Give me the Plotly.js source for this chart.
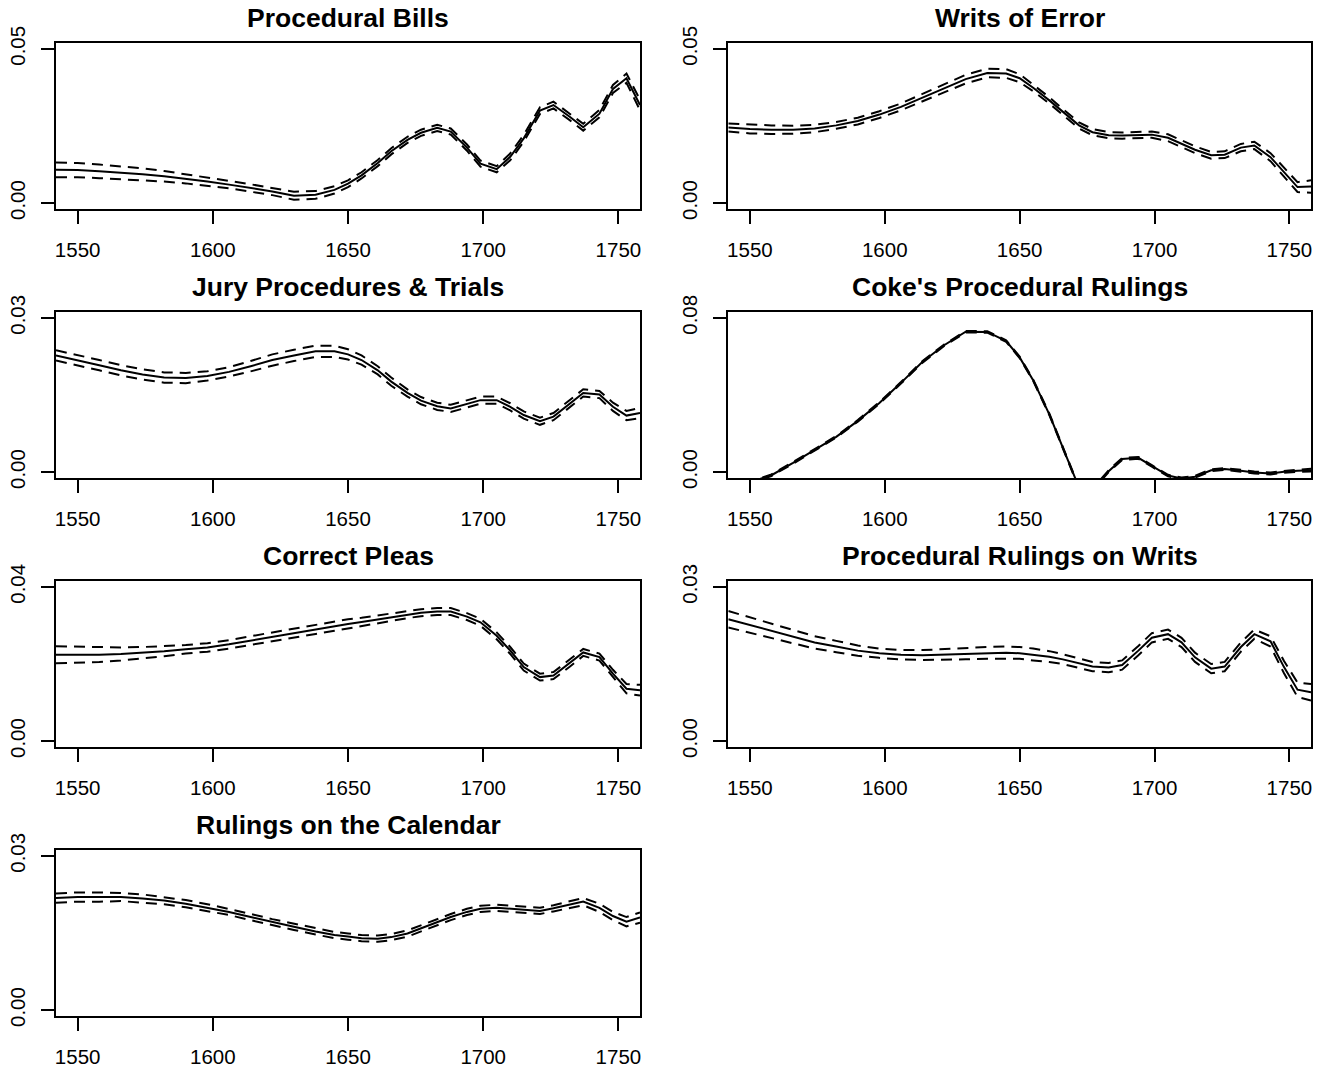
<!DOCTYPE html>
<html>
<head>
<meta charset="utf-8">
<script src="https://cdn.plot.ly/plotly-3.0.1.min.js"></script>
<style>html,body{margin:0;padding:0;background:#fff;}#chart{width:1326px;height:1070px;}</style>
</head>
<body>
<div id="chart"></div>
<script>
const years = [1542,1550,1558,1566,1574,1582,1590,1598,1606,1614,1622,1630,1638,1645,1650,1655,1661,1666,1672,1677,1683,1688,1694,1699,1705,1710,1715,1721,1726,1732,1737,1743,1748,1753,1758];
const xTickVals = [1550,1600,1650,1700,1750];

const titles = ["Procedural Bills","Writs of Error","Jury Procedures & Trials","Coke's Procedural Rulings","Correct Pleas","Procedural Rulings on Writs","Rulings on the Calendar"];
const yMaxTicks = [0.05,0.05,0.03,0.08,0.04,0.03,0.03];
const yMaxLabels = ["0.05","0.05","0.03","0.08","0.04","0.03","0.03"];

const pbMean = [0.0108,0.0107,0.0103,0.0099,0.0094,0.0087,0.0079,0.0070,0.0060,0.0049,0.0038,0.0024,0.0027,0.0043,0.0063,0.0090,0.0130,0.0168,0.0205,0.0228,0.0244,0.0232,0.0180,0.0128,0.0110,0.0150,0.0210,0.0300,0.0318,0.0280,0.0246,0.0290,0.0370,0.0405,0.0318];
const pbHi   = [0.0132,0.0130,0.0125,0.0120,0.0113,0.0104,0.0094,0.0083,0.0072,0.0061,0.0050,0.0037,0.0039,0.0055,0.0074,0.0100,0.0140,0.0178,0.0215,0.0238,0.0254,0.0242,0.0190,0.0138,0.0120,0.0161,0.0221,0.0311,0.0329,0.0291,0.0257,0.0302,0.0383,0.0420,0.0335];
const pbLo   = [0.0084,0.0084,0.0081,0.0078,0.0075,0.0070,0.0064,0.0057,0.0048,0.0037,0.0026,0.0011,0.0014,0.0031,0.0052,0.0080,0.0120,0.0158,0.0195,0.0218,0.0234,0.0222,0.0170,0.0118,0.0100,0.0139,0.0199,0.0289,0.0307,0.0269,0.0235,0.0278,0.0357,0.0390,0.0301];

const weMean = [0.0245,0.0240,0.0238,0.0238,0.0242,0.0252,0.0266,0.0287,0.0312,0.0342,0.0373,0.0402,0.0422,0.0420,0.0405,0.0374,0.0333,0.0295,0.0252,0.0230,0.0220,0.0219,0.0221,0.0222,0.0212,0.0193,0.0173,0.0155,0.0157,0.0180,0.0187,0.0149,0.0101,0.0052,0.0054];
const weHi   = [0.0258,0.0254,0.0252,0.0251,0.0254,0.0263,0.0277,0.0298,0.0323,0.0354,0.0386,0.0416,0.0436,0.0434,0.0418,0.0385,0.0343,0.0305,0.0262,0.0240,0.0230,0.0229,0.0231,0.0232,0.0223,0.0204,0.0184,0.0166,0.0168,0.0192,0.0199,0.0162,0.0115,0.0068,0.0074];
const weLo   = [0.0232,0.0226,0.0224,0.0225,0.0230,0.0241,0.0255,0.0276,0.0301,0.0330,0.0360,0.0388,0.0408,0.0406,0.0392,0.0363,0.0323,0.0285,0.0242,0.0220,0.0210,0.0209,0.0211,0.0212,0.0201,0.0182,0.0162,0.0144,0.0146,0.0168,0.0175,0.0136,0.0087,0.0036,0.0034];

const jpMean = [0.0227,0.0218,0.0208,0.0198,0.0190,0.0184,0.0183,0.0187,0.0195,0.0206,0.0218,0.0227,0.0235,0.0235,0.0229,0.0218,0.0198,0.0176,0.0154,0.0139,0.0128,0.0124,0.0132,0.0140,0.0140,0.0127,0.0111,0.0099,0.0108,0.0133,0.0154,0.0151,0.0127,0.0110,0.0115];
const jpHi   = [0.0237,0.0228,0.0218,0.0208,0.0200,0.0194,0.0193,0.0196,0.0204,0.0216,0.0229,0.0238,0.0246,0.0246,0.0239,0.0227,0.0206,0.0184,0.0161,0.0146,0.0135,0.0131,0.0139,0.0147,0.0147,0.0134,0.0118,0.0106,0.0115,0.0140,0.0161,0.0158,0.0135,0.0119,0.0125];
const jpLo   = [0.0217,0.0208,0.0198,0.0188,0.0180,0.0174,0.0173,0.0178,0.0186,0.0196,0.0207,0.0216,0.0224,0.0224,0.0219,0.0209,0.0190,0.0168,0.0147,0.0132,0.0121,0.0117,0.0125,0.0133,0.0133,0.0120,0.0104,0.0092,0.0101,0.0126,0.0147,0.0144,0.0119,0.0101,0.0105];

const cpMean = [-0.0090,-0.0055,-0.0016,0.0048,0.0114,0.0183,0.0266,0.0359,0.0463,0.0572,0.0658,0.0728,0.0727,0.0680,0.0595,0.0477,0.0300,0.0131,-0.0080,-0.0090,0.0005,0.0068,0.0074,0.0032,-0.0018,-0.0033,-0.0024,0.0010,0.0016,0.0007,-0.0002,-0.0007,0.0002,0.0007,0.0010];
const cpHi   = [-0.0086,-0.0051,-0.0012,0.0052,0.0118,0.0187,0.0270,0.0363,0.0467,0.0576,0.0662,0.0732,0.0731,0.0684,0.0599,0.0481,0.0304,0.0135,-0.0076,-0.0086,0.0010,0.0073,0.0079,0.0036,-0.0014,-0.0028,-0.0019,0.0015,0.0021,0.0012,0.0003,-0.0002,0.0007,0.0013,0.0017];
const cpLo   = [-0.0094,-0.0059,-0.0020,0.0044,0.0110,0.0179,0.0262,0.0355,0.0459,0.0568,0.0654,0.0724,0.0723,0.0676,0.0591,0.0473,0.0296,0.0127,-0.0084,-0.0094,0.0000,0.0063,0.0069,0.0028,-0.0022,-0.0038,-0.0029,0.0005,0.0011,0.0002,-0.0007,-0.0012,-0.0003,0.0001,0.0003];

const plMean = [0.0224,0.0224,0.0224,0.0226,0.0229,0.0233,0.0238,0.0243,0.0251,0.0261,0.0270,0.0280,0.0290,0.0298,0.0304,0.0309,0.0316,0.0322,0.0328,0.0333,0.0336,0.0336,0.0323,0.0308,0.0273,0.0235,0.0192,0.0166,0.0170,0.0202,0.0230,0.0218,0.0175,0.0136,0.0132];
const plHi   = [0.0246,0.0245,0.0243,0.0243,0.0244,0.0246,0.0249,0.0254,0.0262,0.0272,0.0282,0.0292,0.0302,0.0310,0.0316,0.0320,0.0326,0.0331,0.0337,0.0342,0.0345,0.0345,0.0332,0.0317,0.0282,0.0244,0.0201,0.0175,0.0179,0.0211,0.0239,0.0227,0.0185,0.0148,0.0146];
const plLo   = [0.0202,0.0203,0.0205,0.0209,0.0214,0.0220,0.0227,0.0232,0.0240,0.0250,0.0258,0.0268,0.0278,0.0286,0.0292,0.0298,0.0306,0.0313,0.0319,0.0324,0.0327,0.0327,0.0314,0.0299,0.0264,0.0226,0.0183,0.0157,0.0161,0.0193,0.0221,0.0209,0.0165,0.0124,0.0118];

const rwMean = [0.0237,0.0226,0.0215,0.0203,0.0192,0.0184,0.0176,0.0171,0.0168,0.0167,0.0168,0.0170,0.0171,0.0172,0.0171,0.0168,0.0164,0.0159,0.0152,0.0145,0.0143,0.0148,0.0176,0.0201,0.0208,0.0192,0.0163,0.0141,0.0145,0.0183,0.0208,0.0194,0.0144,0.0100,0.0095];
const rwHi   = [0.0253,0.0241,0.0229,0.0216,0.0204,0.0195,0.0186,0.0180,0.0177,0.0177,0.0179,0.0182,0.0183,0.0184,0.0183,0.0180,0.0175,0.0169,0.0161,0.0154,0.0152,0.0157,0.0185,0.0210,0.0217,0.0201,0.0172,0.0150,0.0154,0.0192,0.0217,0.0204,0.0156,0.0114,0.0111];
const rwLo   = [0.0221,0.0211,0.0201,0.0190,0.0180,0.0173,0.0166,0.0162,0.0159,0.0158,0.0158,0.0159,0.0160,0.0160,0.0160,0.0157,0.0154,0.0150,0.0143,0.0136,0.0134,0.0139,0.0167,0.0192,0.0199,0.0183,0.0154,0.0132,0.0136,0.0174,0.0199,0.0184,0.0132,0.0086,0.0079];

const rcMean = [0.0218,0.0220,0.0220,0.0220,0.0217,0.0213,0.0207,0.0199,0.0191,0.0181,0.0171,0.0162,0.0153,0.0146,0.0143,0.0140,0.0139,0.0142,0.0149,0.0159,0.0170,0.0181,0.0191,0.0197,0.0199,0.0197,0.0194,0.0193,0.0198,0.0205,0.0211,0.0199,0.0183,0.0172,0.0180];
const rcHi   = [0.0227,0.0229,0.0229,0.0228,0.0225,0.0220,0.0214,0.0206,0.0197,0.0187,0.0177,0.0168,0.0159,0.0152,0.0149,0.0146,0.0145,0.0148,0.0155,0.0165,0.0176,0.0187,0.0197,0.0203,0.0205,0.0203,0.0200,0.0199,0.0204,0.0211,0.0218,0.0207,0.0191,0.0181,0.0190];
const rcLo   = [0.0209,0.0211,0.0211,0.0212,0.0209,0.0206,0.0200,0.0192,0.0185,0.0175,0.0165,0.0156,0.0147,0.0140,0.0137,0.0134,0.0133,0.0136,0.0143,0.0153,0.0164,0.0175,0.0185,0.0191,0.0193,0.0191,0.0188,0.0187,0.0192,0.0199,0.0204,0.0191,0.0175,0.0163,0.0170];

const means = [pbMean, weMean, jpMean, cpMean, plMean, rwMean, rcMean];
const his = [pbHi, weHi, jpHi, cpHi, plHi, rwHi, rcHi];
const los = [pbLo, weLo, jpLo, cpLo, plLo, rwLo, rcLo];

const W = 1326, H = 1070;
const colX = [[56, 640], [728.3, 1311]];
const rowTop0 = 42.7, rowBot0 = 209.3, rowStep = 269;
const FONT = "Liberation Sans, Arial, Helvetica, sans-serif";

const traces = [];
const layout = {
  width: W, height: H,
  margin: {l: 0, r: 0, t: 0, b: 0},
  paper_bgcolor: "#ffffff", plot_bgcolor: "#ffffff",
  showlegend: false,
  font: {family: FONT, color: "#000000"},
  annotations: []
};

for (let i = 0; i < 7; i++) {
  const col = i % 2, row = Math.floor(i / 2);
  const ax = i === 0 ? "" : String(i + 1);
  const xa = "x" + ax, ya = "y" + ax;
  const top = rowTop0 + row * rowStep, bot = rowBot0 + row * rowStep;
  const M = yMaxTicks[i];
  const lineSolid = {color: "#000000", width: 2};
  const lineDash = {color: "#000000", width: 2, dash: "11px,7px"};
  traces.push({x: years, y: his[i], type: "scatter", mode: "lines", xaxis: xa, yaxis: ya, line: lineDash, hoverinfo: "skip"});
  traces.push({x: years, y: los[i], type: "scatter", mode: "lines", xaxis: xa, yaxis: ya, line: lineDash, hoverinfo: "skip"});
  traces.push({x: years, y: means[i], type: "scatter", mode: "lines", xaxis: xa, yaxis: ya, line: lineSolid, hoverinfo: "skip"});

  const axCommon = {
    showline: true, mirror: true, linecolor: "#000000", linewidth: 2,
    showgrid: false, zeroline: false,
    ticks: "outside", ticklen: 13, tickwidth: 2, tickcolor: "#000000",
    tickfont: {family: FONT, size: 20.5, color: "#000000"},
    fixedrange: true
  };
  layout["xaxis" + ax] = Object.assign({}, axCommon, {
    domain: [colX[col][0] / W, colX[col][1] / W],
    range: [1542, 1758],
    tickmode: "array", tickvals: xTickVals, ticktext: xTickVals.map(String),
    ticklabelstandoff: 8,
    anchor: ya
  });
  layout["yaxis" + ax] = Object.assign({}, axCommon, {
    domain: [1 - bot / H, 1 - top / H],
    range: [-0.04 * M, 1.04 * M],
    tickmode: "array", tickvals: [0, M], ticktext: ["0.00", yMaxLabels[i]],
    tickangle: -90,
    ticklabelstandoff: 8,
    anchor: xa
  });
  layout.annotations.push({
    text: titles[i], xref: "paper", yref: "paper",
    x: (colX[col][0] + colX[col][1]) / 2 / W,
    y: 1 - (18 + row * rowStep) / H,
    xanchor: "center", yanchor: "middle", showarrow: false,
    font: {family: FONT, size: 26.5, weight: "bold", color: "#000000"}
  });
}

Plotly.newPlot("chart", traces, layout, {staticPlot: true, displayModeBar: false});
</script>
</body>
</html>
